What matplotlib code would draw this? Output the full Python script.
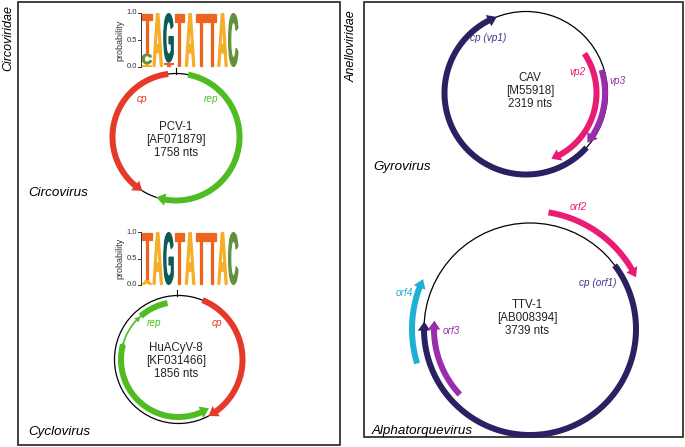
import numpy as np
import matplotlib
matplotlib.use('Agg')
import matplotlib.pyplot as plt
from matplotlib.patches import Polygon, Circle, Rectangle, PathPatch
from matplotlib.textpath import TextPath
from matplotlib.font_manager import FontProperties
from matplotlib.transforms import Affine2D

plt.rcParams['font.family'] = ['Liberation Sans', 'DejaVu Sans']

# ---------------- data ----------------
families = ['Circoviridae', 'Anelloviridae']
genera = ['Circovirus', 'Cyclovirus', 'Gyrovirus', 'Alphatorquevirus']
genome_names = ['PCV-1', 'HuACyV-8', 'CAV', 'TTV-1']
genome_acc = ['AF071879', 'KF031466', 'M55918', 'AB008394']
genome_len = [1758, 1856, 2319, 3739]

# sequence logos (nonanucleotide motif), probabilities per position
logo_bases = ['A', 'C', 'G', 'T']
logo1_A = [0.05, 1.0, 0.00, 0.0, 1.0, 0.0, 0.0, 1.0, 0.0]
logo1_C = [0.20, 0.0, 0.00, 0.0, 0.0, 0.0, 0.0, 0.0, 1.0]
logo1_G = [0.00, 0.0, 0.92, 0.0, 0.0, 0.0, 0.0, 0.0, 0.0]
logo1_T = [0.75, 0.0, 0.08, 1.0, 0.0, 1.0, 1.0, 0.0, 0.0]
logo2_A = [0.10, 1.0, 0.00, 0.0, 1.0, 0.0, 0.0, 1.0, 0.0]
logo2_C = [0.00, 0.0, 0.00, 0.0, 0.0, 0.0, 0.0, 0.0, 1.0]
logo2_G = [0.00, 0.0, 1.00, 0.0, 0.0, 0.0, 0.0, 0.0, 0.0]
logo2_T = [0.90, 0.0, 0.00, 1.0, 0.0, 1.0, 1.0, 0.0, 0.0]
logo_ticks = [0.0, 0.5, 1.0]

# genes: arc start / end (degrees on the genome map)
pcv_genes = ['cp', 'rep']
pcv_start = [97, 79]
pcv_end = [238, -108]
hu_genes = ['cp', 'rep']
hu_start = [68, 101]
hu_end = [-62, 302]
hu_intron = [131, 165]
cav_genes = ['cp (vp1)', 'vp2', 'vp3']
cav_start = [-42, 34, 17]
cav_end = [-249, -69, -39]
ttv_genes = ['cp (orf1)', 'orf2', 'orf3', 'orf4']
ttv_start = [37, 81, 223, 197]
ttv_end = [-184, 26, 175, 155]

# ---------------- styles ----------------
RED = '#e5392a'
GREEN = '#4fbd22'
NAVY = '#2a2163'
PINK = '#ea1b73'
PURPLE = '#9a2cae'
CYAN = '#1eb0d3'
LBL_NAVY = '#3f3389'
base_col = {'A': '#f6ad28', 'C': '#62913e', 'G': '#0c5a55', 'T': '#ee641f'}
GENE_FS = 7.2
GENUS_FS = 9.6

fig = plt.figure(figsize=(6.85, 4.47), dpi=100)
ax = fig.add_axes([0, 0, 1, 1])
ax.set_xlim(0, 685)
ax.set_ylim(447, 0)
ax.axis('off')

letter_fp = FontProperties(family='Liberation Sans', weight='bold')


def gene_arrow(cx, cy, r, t0, t1, color, w=6.0, hl=9.0, hw=12.5, head=True):
    d = np.sign(t1 - t0)
    dt = np.degrees(hl / r) if head else 0.0
    tb = t1 - d * dt
    th = np.radians(np.linspace(t0, tb + d * (0.4 if head else 0.0), 300))
    ro, ri = r + w / 2, r - w / 2
    xs = np.r_[cx + ro * np.cos(th), cx + ri * np.cos(th[::-1])]
    ys = np.r_[cy - ro * np.sin(th), cy - ri * np.sin(th[::-1])]
    ax.add_patch(Polygon(np.column_stack([xs, ys]), closed=True, fc=color, ec='none'))
    if head:
        b = np.radians(tb)
        e = np.radians(t1)
        pts = [(cx + (r + hw / 2) * np.cos(b), cy - (r + hw / 2) * np.sin(b)),
               (cx + r * np.cos(e), cy - r * np.sin(e)),
               (cx + (r - hw / 2) * np.cos(b), cy - (r - hw / 2) * np.sin(b))]
        ax.add_patch(Polygon(pts, closed=True, fc=color, ec='none'))


def small_head(cx, cy, r, t, d, color, hl=5.0, hw=6.0):
    b = np.radians(t - d * np.degrees(hl / r))
    e = np.radians(t)
    pts = [(cx + (r + hw / 2) * np.cos(b), cy - (r + hw / 2) * np.sin(b)),
           (cx + r * np.cos(e), cy - r * np.sin(e)),
           (cx + (r - hw / 2) * np.cos(b), cy - (r - hw / 2) * np.sin(b))]
    ax.add_patch(Polygon(pts, closed=True, fc=color, ec='none'))


def genome_circle(cx, cy, r):
    ax.add_patch(Circle((cx, cy), r, fill=False, ec='black', lw=0.9))


def center_text(x, y, name, acc, n):
    ax.text(x, y, f'{name}\n[{acc}]\n{n} nts', ha='center', va='center',
            multialignment='center', fontsize=8.3, linespacing=1.1, color='#222222')


def draw_letter(ch, x, ybot, w, h, color):
    if h <= 0.001:
        return
    tp = TextPath((0, 0), ch, size=100, prop=letter_fp)
    bb = tp.get_extents()
    s = 0.6  # inset for the stroke
    hh = max(h - 2 * s, 0.3)
    tr = Affine2D().translate(-bb.x0, -bb.y0).scale((w - 2 * s) / bb.width, -hh / bb.height).translate(x + s, ybot - s)
    ax.add_patch(PathPatch(tr.transform_path(tp), fc=color, ec=color, lw=0.9))


def draw_logo(x_axis, y0, y1, probs):
    unit = y0 - y1
    ax.plot([x_axis, x_axis], [y0, y1], color='#333333', lw=0.7)
    for t in logo_ticks:
        yy = y0 - t * unit
        ax.plot([x_axis - 3, x_axis], [yy, yy], color='#333333', lw=0.7)
        ax.text(x_axis - 4, yy, f'{t:.1f}', ha='right', va='center', fontsize=5.5, color='#333333')
    ax.text(x_axis - 21, (y0 + y1) / 2, 'probability', rotation=90, ha='center', va='center',
            fontsize=6.5, color='#333333')
    npos = len(probs[0])
    lw_ = 10.8
    for i in range(npos):
        vals = [(probs[k][i], logo_bases[k]) for k in range(4)]
        vals.sort()
        yb = y0
        for p, b in vals:
            if p <= 0:
                continue
            h = p * unit
            draw_letter(b, x_axis + 0.6 + i * lw_, yb, lw_ - 0.2, h, base_col[b])
            yb -= h


# panel boxes
ax.add_patch(Rectangle((18, 2), 322, 443, fill=False, ec='#333333', lw=1.3))
ax.add_patch(Rectangle((364, 2), 319, 435, fill=False, ec='#333333', lw=1.3))

# family labels
ax.text(8, 38, families[0], rotation=90, ha='center', va='center', fontsize=9, style='italic')
ax.text(352, 46, families[1], rotation=90, ha='center', va='center', fontsize=9, style='italic')

# genus labels
ax.text(28, 193, genera[0], ha='left', va='center', fontsize=GENUS_FS, style='italic')
ax.text(28, 432, genera[1], ha='left', va='center', fontsize=GENUS_FS, style='italic')
ax.text(373, 167, genera[2], ha='left', va='center', fontsize=GENUS_FS, style='italic')
ax.text(372, 431, genera[3], ha='left', va='center', fontsize=GENUS_FS, style='italic')

# ---- PCV-1 ----
cx, cy, r = 176, 137, 63.5
genome_circle(cx, cy, r)
ax.plot([cx, cx], [cy - r - 6, cy - r], color='black', lw=0.8)
pcv_cols = [RED, GREEN]
for g, s, e, c in zip(pcv_genes, pcv_start, pcv_end, pcv_cols):
    gene_arrow(cx, cy, r, s, e, c)
ax.text(142, 99, pcv_genes[0], color=RED, fontsize=GENE_FS, style='italic', ha='center', va='center')
ax.text(211, 99, pcv_genes[1], color=GREEN, fontsize=GENE_FS, style='italic', ha='center', va='center')
center_text(176, 140, genome_names[0], genome_acc[0], genome_len[0])
draw_logo(141, 67, 13, [logo1_A, logo1_C, logo1_G, logo1_T])

# ---- HuACyV-8 ----
cx, cy, r = 178.5, 359.5, 64
genome_circle(cx, cy, r)
ax.plot([177, 177], [cy - r - 6, cy - r], color='black', lw=0.8)
gene_arrow(cx, cy, r, hu_start[0], hu_end[0], RED)
rg = r - 6.5
gene_arrow(cx, cy, rg, hu_start[1], hu_intron[0], GREEN, head=False)
th = np.radians(np.linspace(hu_intron[0], hu_intron[1], 60))
ax.plot(cx + rg * np.cos(th), cy - rg * np.sin(th), color=GREEN, lw=1.2)
small_head(cx, cy, rg, hu_intron[0] + 1, -1, GREEN)
small_head(cx, cy, rg, hu_intron[1] - 3, -1, GREEN)
gene_arrow(cx, cy, rg, hu_intron[1], hu_end[1], GREEN)
ax.text(154, 323, hu_genes[1], color=GREEN, fontsize=GENE_FS, style='italic', ha='center', va='center')
ax.text(217, 323, hu_genes[0], color=RED, fontsize=GENE_FS, style='italic', ha='center', va='center')
center_text(176, 361, genome_names[1], genome_acc[1], genome_len[1])
draw_logo(141, 285, 232, [logo2_A, logo2_C, logo2_G, logo2_T])

# ---- CAV ----
cx, cy, r = 526, 93, 81.5
genome_circle(cx, cy, r)
cav_cols = [NAVY, PINK, PURPLE]
cav_off = [0, -11, -2.5]
for g, s, e, c, o in zip(cav_genes, cav_start, cav_end, cav_cols, cav_off):
    gene_arrow(cx, cy, r + o, s, e, c)
ax.text(488, 38, cav_genes[0], color=LBL_NAVY, fontsize=GENE_FS, style='italic', ha='center', va='center')
ax.text(578, 72, cav_genes[1], color=PINK, fontsize=GENE_FS, style='italic', ha='center', va='center')
ax.text(618, 81, cav_genes[2], color=PURPLE, fontsize=GENE_FS, style='italic', ha='center', va='center')
center_text(530, 91, genome_names[2], genome_acc[2], genome_len[2])

# ---- TTV-1 ----
cx, cy, r = 530, 329, 106
genome_circle(cx, cy, r)
ttv_cols = [NAVY, PINK, PURPLE, CYAN]
ttv_off = [0, 12, -10, 12]
for g, s, e, c, o in zip(ttv_genes, ttv_start, ttv_end, ttv_cols, ttv_off):
    gene_arrow(cx, cy, r + o, s, e, c)
ax.text(598, 283, ttv_genes[0], color=LBL_NAVY, fontsize=GENE_FS, style='italic', ha='center', va='center')
ax.text(578, 207, ttv_genes[1], color=PINK, fontsize=GENE_FS, style='italic', ha='center', va='center')
ax.text(451, 331, ttv_genes[2], color=PURPLE, fontsize=GENE_FS, style='italic', ha='center', va='center')
ax.text(404, 293, ttv_genes[3], color=CYAN, fontsize=GENE_FS, style='italic', ha='center', va='center')
center_text(527, 318, genome_names[3], genome_acc[3], genome_len[3])

fig.savefig('out.png', dpi=100)
